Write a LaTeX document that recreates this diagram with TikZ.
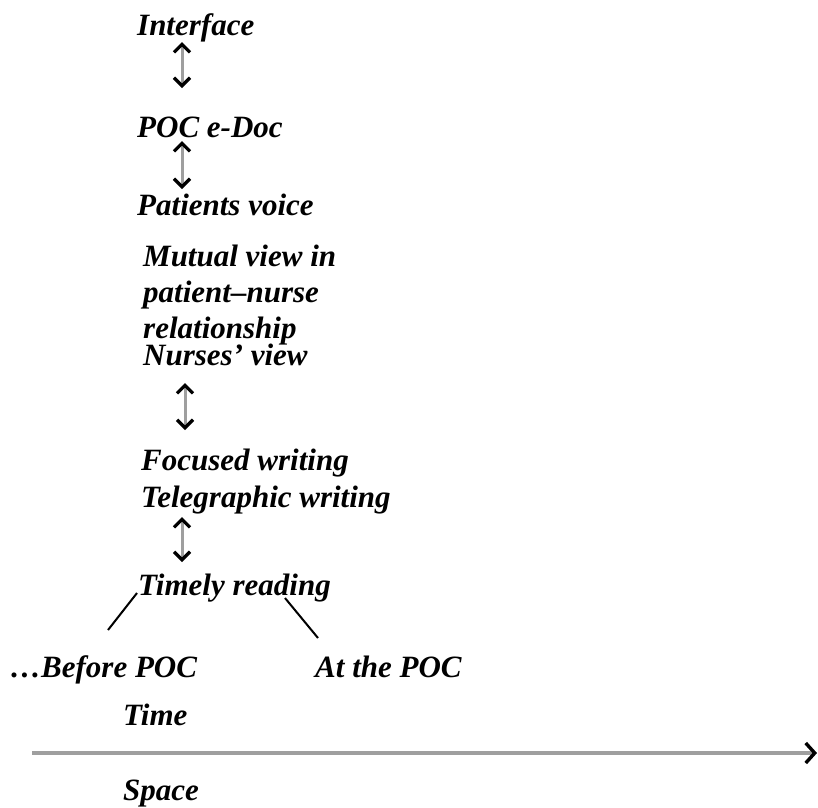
\documentclass[tikz,border=0pt]{standalone}
\usepackage{fontspec}
\setmainfont{Liberation Serif}
\usetikzlibrary{arrows.meta}
\begin{document}
\begin{tikzpicture}[x=1pt,y=-1pt,
  lbl/.style={anchor=base west,inner sep=0pt,font=\fontsize{31}{36}\selectfont\bfseries\itshape},
  dblarrow/.style={draw=gray!75,line width=3pt,
    {Straight Barb[length=8pt,width=16pt,line width=3.2pt,color=black]}-{Straight Barb[length=8pt,width=16pt,line width=3.2pt,color=black]}},
  branch/.style={draw=black,line width=2pt},
  axis/.style={draw=gray!75,line width=3.4pt,-{Straight Barb[length=9pt,width=20pt,line width=3.4pt,color=black]}}]
\useasboundingbox (0,0) rectangle (818,807);
% labels of the ladder
\node[lbl] (iface)  at (137,35)  {Interface};
\node[lbl] (poc)    at (137,137) {POC e-Doc};
\node[lbl] (pvoice) at (137,215) {Patients voice};
\node[lbl,align=left,anchor=north west] (mutual) at (143,245) {Mutual view in\\patient–nurse\\relationship};
\node[lbl] (nview)  at (143,365) {Nurses’ view};
\node[lbl] (focus)  at (141,470) {Focused writing};
\node[lbl] (teleg)  at (141,507) {Telegraphic writing};
\node[lbl] (timely) at (138,595) {Timely reading};
\node[lbl] (before) at (10,677)  {…Before POC};
\node[lbl] (atpoc)  at (315,677) {At the POC};
\node[lbl] (time)   at (123,725) {Time};
\node[lbl] (space)  at (123,800) {Space};
% two-way links
\draw[dblarrow] ([shift={(45,7)}]iface.base west) -- ([shift={(45,-49)}]poc.base west);
\draw[dblarrow] ([shift={(45,4)}]poc.base west) -- ([shift={(45,-26)}]pvoice.base west);
\draw[dblarrow] ([shift={(42,18)}]nview.base west) -- ([shift={(44,-40)}]focus.base west);
\draw[dblarrow] ([shift={(41,10)}]teleg.base west) -- ([shift={(44,-33)}]timely.base west);
% branches of timely reading
\draw[branch] ([shift={(-1,-2)}]timely.base west) -- ([shift={(98,-47)}]before.base west);
\draw[branch] ([shift={(147,3)}]timely.base west) -- ([shift={(3,-39)}]atpoc.base west);
% time axis
\coordinate (axstart) at (32,753);
\coordinate (axend) at (817,753);
\draw[axis] (axstart) -- (axend);
\end{tikzpicture}
\end{document}
